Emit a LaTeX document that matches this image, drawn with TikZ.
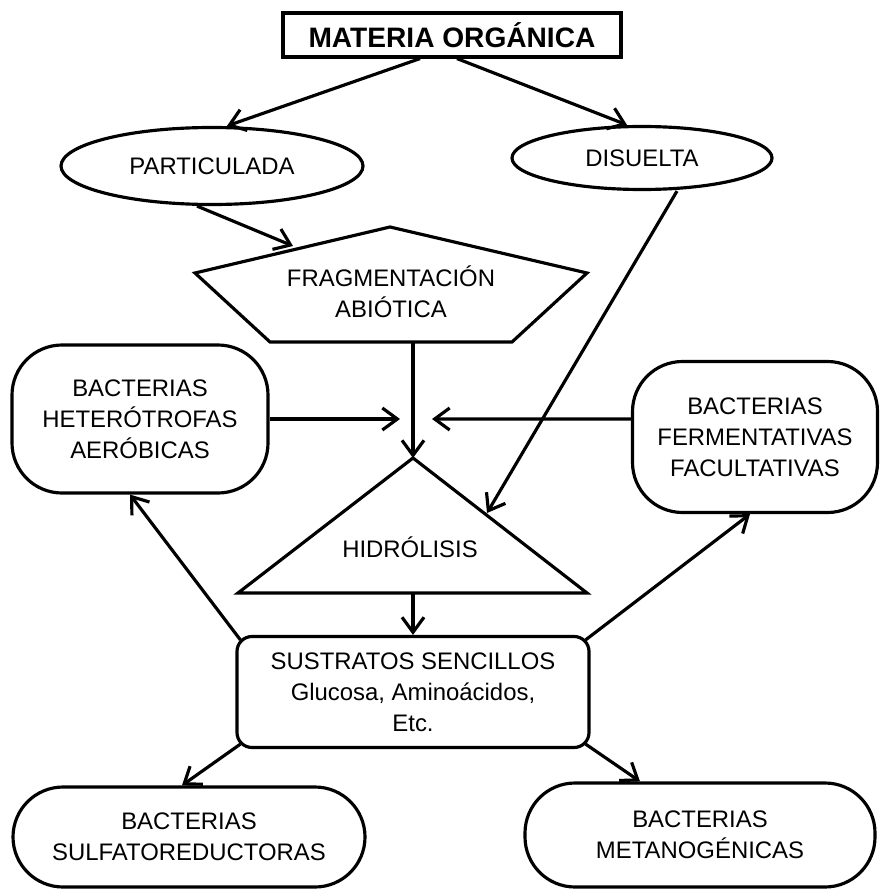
\documentclass[tikz,border=0pt]{standalone}
\usepackage{fontspec}
\setmainfont{Liberation Sans}
\usetikzlibrary{arrows.meta,shapes.geometric}

\tikzset{
  flecha/.style={-{Straight Barb[length=3mm,width=4.4mm]}, line width=1.8pt},
  borde/.style={line width=1.8pt, line join=miter},
  texto/.style={align=center, inner sep=0pt, font=\fontsize{13.6}{17.6}\selectfont},
  caja/.style={texto, draw, borde},
  elipse/.style={caja, ellipse},
}

\begin{document}
\begin{tikzpicture}[x=0.2mm, y=-0.2mm]
                      \useasboundingbox (0,0) rectangle (881,889);
                      \begin{scope}
                        \node[caja, minimum width=67.6mm, minimum height=8.8mm, font=\fontsize{16}{18}\selectfont\bfseries] (mat) at (452,35) {MATERIA ORGÁNICA};
                        \node[elipse, minimum width=60.4mm, minimum height=15.4mm] (part) at (212,166) {PARTICULADA};
                        \node[elipse, minimum width=52mm, minimum height=12.6mm] (dis) at (642,158) {DISUELTA};
                        \draw[borde] (390,227) -- (587,273) -- (512,342) -- (270,342) -- (195,273) -- cycle;
                        \node[texto] (frag) at (391,292) {FRAGMENTACIÓN\\ABIÓTICA};
                        \draw[borde] (413,458) -- (587,593) -- (238,593) -- cycle;
                        \node[texto] (hid) at (410,547) {HIDRÓLISIS};
                        \coordinate (fragin) at (293,246);
                        \coordinate (fragbot) at (413,342);
                        \coordinate (hidtop) at (413,458);
                        \coordinate (hidbot) at (413,593);
                        \coordinate (hidlado) at (487,513);
                        \coordinate (hetfin) at (400,419);
                        \coordinate (ferfin) at (432,419);
                        \node[caja, rounded corners=10mm, minimum width=51.2mm, minimum height=29.6mm] (het) at (140,419) {BACTERIAS\\HETERÓTROFAS\\AERÓBICAS};
                        \node[caja, rounded corners=10mm, minimum width=49mm, minimum height=30.2mm] (fer) at (755,437) {BACTERIAS\\FERMENTATIVAS\\FACULTATIVAS};
                        \node[caja, rounded corners=3mm, minimum width=70.4mm, minimum height=22.2mm] (sus) at (413,692) {SUSTRATOS SENCILLOS\\Glucosa, Aminoácidos,\\Etc.};
                        \node[caja, rounded corners=10mm, minimum width=70.4mm, minimum height=20mm] (sul) at (189,837) {BACTERIAS\\SULFATOREDUCTORAS};
                        \node[caja, rounded corners=10mm, minimum width=70mm, minimum height=20.8mm] (met) at (700,835) {BACTERIAS\\METANOGÉNICAS};
                        \draw[flecha] ([xshift=-6.4mm]mat.south) -- ([xshift=3mm]part.north);
                        \draw[flecha] ([xshift=1mm]mat.south) -- ([xshift=-3mm]dis.north);
                        \draw[flecha] ([xshift=-3mm]part.south) -- (fragin);
                        \draw[flecha] ([xshift=7mm]dis.south) -- (hidlado);
                        \draw[flecha] (fragbot) -- (hidtop);
                        \draw[flecha] (het.east) -- (hetfin);
                        \draw[flecha] ([yshift=3.6mm]fer.west) -- (ferfin);
                        \draw[flecha] (hidbot) -- (sus.north);
                        \draw[flecha] ([shift={(1mm,-1mm)}]sus.north west) -- ([xshift=-2mm]het.south);
                        \draw[flecha] ([shift={(-1mm,-1mm)}]sus.north east) -- ([xshift=-1mm]fer.south);
                        \draw[flecha] ([shift={(1mm,1mm)}]sus.south west) -- ([xshift=-1.4mm]sul.north);
                        \draw[flecha] ([shift={(-1mm,1mm)}]sus.south east) -- ([xshift=-12mm]met.north);
                      \end{scope}
                    \end{tikzpicture}
\end{document}
